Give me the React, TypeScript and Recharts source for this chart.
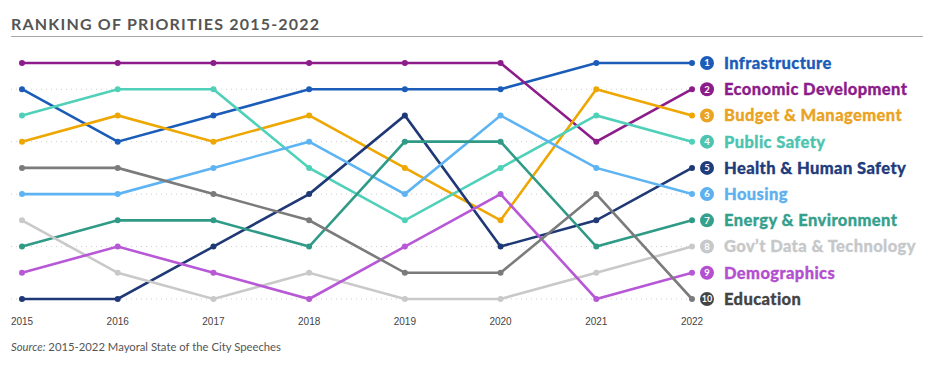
import { LineChart, Line, XAxis, YAxis, ReferenceLine } from 'recharts'

const YEARS = ['2015', '2016', '2017', '2018', '2019', '2020', '2021', '2022']

const INFRASTRUCTURE = [2, 4, 3, 2, 2, 2, 1, 1]
const ECONOMIC_DEV = [1, 1, 1, 1, 1, 1, 4, 2]
const BUDGET = [4, 3, 4, 3, 5, 7, 2, 3]
const PUBLIC_SAFETY = [3, 2, 2, 5, 7, 5, 3, 4]
const HEALTH = [10, 10, 8, 6, 3, 8, 7, 5]
const HOUSING = [6, 6, 5, 4, 6, 3, 5, 6]
const ENERGY = [8, 7, 7, 8, 4, 4, 8, 7]
const GOV_DATA = [7, 9, 10, 9, 10, 10, 9, 8]
const DEMOGRAPHICS = [9, 8, 9, 10, 8, 6, 10, 9]
const EDUCATION = [5, 5, 6, 7, 9, 9, 6, 10]

const SERIES = [
  { key: 'infra', name: 'Infrastructure', values: INFRASTRUCTURE, color: '#1b5cb8', badge: '#1b5cb8', text: '#1b5cb8' },
  { key: 'econ', name: 'Economic Development', values: ECONOMIC_DEV, color: '#8c1c8a', badge: '#8c1c8a', text: '#8c1c8a' },
  { key: 'budget', name: 'Budget & Management', values: BUDGET, color: '#eea700', badge: '#eaa323', text: '#eaa323' },
  { key: 'safety', name: 'Public Safety', values: PUBLIC_SAFETY, color: '#4fd0b8', badge: '#4dc4b0', text: '#4dc4b0' },
  { key: 'health', name: 'Health & Human Safety', values: HEALTH, color: '#1f3876', badge: '#1f3c7c', text: '#1f3c7c' },
  { key: 'housing', name: 'Housing', values: HOUSING, color: '#5eb4f3', badge: '#5eb0ef', text: '#5eb0ef' },
  { key: 'energy', name: 'Energy & Environment', values: ENERGY, color: '#2f9a86', badge: '#35a08c', text: '#35a08c' },
  { key: 'gov', name: 'Gov\u2019t Data & Technology', values: GOV_DATA, color: '#c9c9c9', badge: '#c6c8ca', text: '#c6c8ca' },
  { key: 'demo', name: 'Demographics', values: DEMOGRAPHICS, color: '#b758d6', badge: '#b34fd0', text: '#b34fd0' },
  { key: 'edu', name: 'Education', values: EDUCATION, color: '#7b7b7b', badge: '#444444', text: '#444444' },
]

const EVEN_RANKS = [2, 4, 6, 8, 10]

const data = YEARS.map((year, i) => {
  const row: Record<string, string | number> = { year }
  SERIES.forEach(s => { row[s.key] = s.values[i] })
  return row
})

const FONT = 'Lato, "Open Sans", sans-serif'

function makeLabel(s: typeof SERIES[number]) {
  return (props: any) => {
    const { x, y, index, value } = props
    if (index !== YEARS.length - 1) return null
    return (
      <g key={`lbl-${s.key}`}>
        <circle cx={x + 15} cy={y} r={7} fill={s.badge} />
        <text x={x + 15} y={y} dy="0.35em" textAnchor="middle" fill="#fff"
          fontSize={value >= 10 ? 9 : 9.5} fontWeight={700} fontFamily={FONT}>
          {value}
        </text>
        <text x={x + 32} y={y} dy="0.36em" fill={s.text} fontSize={16.5}
          fontWeight={900} letterSpacing={0.4} fontFamily={FONT}
          stroke={s.text} strokeWidth={0.3}>
          {s.name}
        </text>
      </g>
    )
  }
}

export default function App() {
  return (
    <div style={{ position: 'absolute', left: 0, top: 0, width: 936, height: 366, background: '#fff', fontFamily: FONT }}>
      <div style={{ position: 'absolute', left: 11, top: 14, fontSize: 16, fontWeight: 700, letterSpacing: 1.2, color: '#555' }}>
        RANKING OF PRIORITIES 2015-2022
      </div>
      <div style={{ position: 'absolute', left: 11, top: 36, width: 912, height: 1, background: '#a8a8a8' }} />
      <LineChart
        width={936}
        height={366}
        data={data}
        margin={{ top: 63, right: 244, bottom: 37, left: 11 }}
        style={{ position: 'absolute', left: 0, top: 0 }}
      >
        <XAxis
          dataKey="year"
          axisLine={false}
          tickLine={false}
          height={30}
          padding={{ left: 11, right: 0 }}
          tickMargin={13}
          tick={{ fontSize: 10, fill: '#444', fontFamily: 'Arial, sans-serif' }}
          interval={0}
        />
        <YAxis hide reversed domain={[1, 10]} type="number" />
        {EVEN_RANKS.map(r => (
          <ReferenceLine key={r} y={r} stroke="#cfcfcf" strokeDasharray="1 4" />
        ))}
        {SERIES.map(s => (
          <Line
            key={s.key}
            dataKey={s.key}
            stroke={s.color}
            strokeWidth={2.6}
            dot={{ r: 3, fill: s.color, stroke: s.color, strokeWidth: 0 }}
            activeDot={false}
            isAnimationActive={false}
            label={makeLabel(s)}
          />
        ))}
      </LineChart>
      <div style={{ position: 'absolute', left: 11, top: 340, fontSize: 11.3, color: '#555' }}>
        <i>Source:</i> 2015-2022 Mayoral State of the City Speeches
      </div>
    </div>
  )
}
